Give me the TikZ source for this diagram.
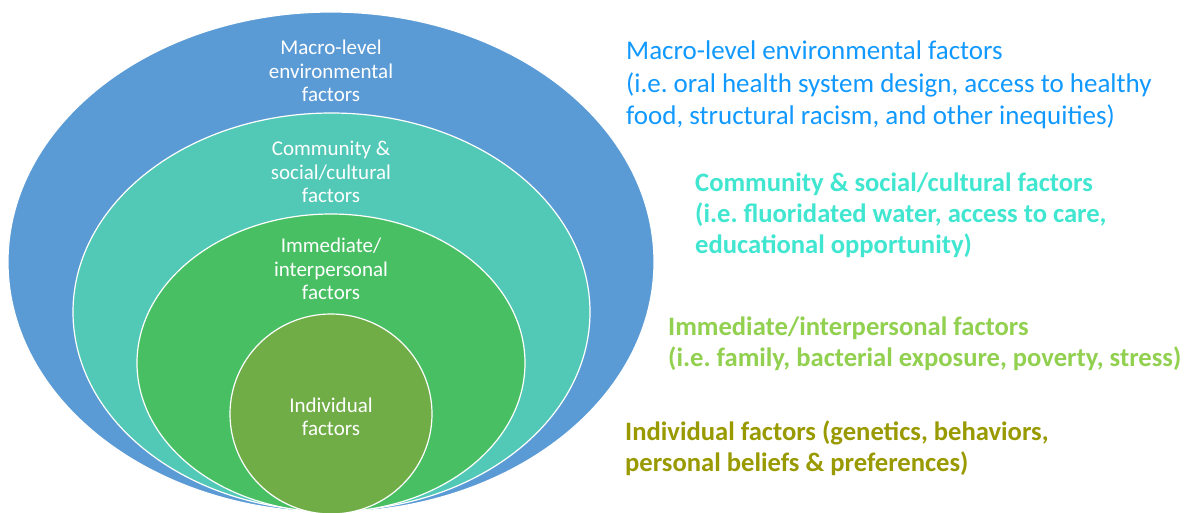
\documentclass[tikz,border=0pt]{standalone}
\usepackage{fontspec}
\setmainfont{Carlito}
\usetikzlibrary{shapes.geometric}
\frenchspacing
\definecolor{outerblue}{HTML}{5B9BD5}
\definecolor{tealfill}{HTML}{52C9B6}
\definecolor{greenfill}{HTML}{48BF63}
\definecolor{indivfill}{HTML}{70AD47}
\definecolor{txtblue}{RGB}{17,153,255}
\definecolor{txtturq}{RGB}{64,230,208}
\definecolor{txtgreen}{RGB}{146,208,80}
\definecolor{txtolive}{RGB}{153,153,0}
\begin{document}
\begin{tikzpicture}[x=1pt,y=-1pt,
 ring/.style={ellipse, draw=white, line width=1.2pt, inner sep=0pt},
 lab/.style={text=white, align=center, font=\fontsize{21}{23.5}\selectfont, inner sep=0pt},
 desc/.style={align=left, anchor=north west, inner sep=0pt, font=\fontsize{27}{32.5}\selectfont},
 descb/.style={align=left, anchor=north west, inner sep=0pt, font=\fontsize{26.6}{31}\selectfont\bfseries}]
\useasboundingbox (0,0) rectangle (1188,512);
\fill[white] (0,0) rectangle (1188,512);
\begin{scope}
\clip (0,0) rectangle (1188,512);
\node[ring, fill=outerblue, minimum width=646pt, minimum height=500pt] (macro) at (331,262) {};
\node[ring, fill=tealfill, minimum width=517pt, minimum height=398pt] (comm) at (331.5,312) {};
\node[ring, fill=greenfill, minimum width=388pt, minimum height=298pt] (imm) at (331,363) {};
\node[ring, fill=indivfill, minimum width=202pt, minimum height=200pt] (ind) at (331,414) {};
\end{scope}
\node[lab] (macrolab) at (331,71) {Macro-level\\environmental\\factors};
\node[lab] (commlab) at (331,172) {Community \&\\social/cultural\\factors};
\node[lab] (immlab) at (331,269) {Immediate/\\interpersonal\\factors};
\node[lab] (indlab) at (331,417) {Individual\\factors};
\node[desc, text=txtblue] (macrodesc) at (626,41) {Macro-level environmental factors\\(i.e. oral health system design, access to healthy\\food, structural racism, and other inequities)};
\node[descb, text=txtturq] (commdesc) at (695,173) {Community \& social/cultural factors\\(i.e. fluoridated water, access to care,\\educational opportunity)};
\node[descb, text=txtgreen] (immdesc) at (668,317) {Immediate/interpersonal factors\\(i.e. family, bacterial exposure, poverty, stress)};
\node[descb, text=txtolive] (inddesc) at (625,421) {Individual factors (genetics, behaviors,\\personal beliefs \& preferences)};
\end{tikzpicture}
\end{document}
